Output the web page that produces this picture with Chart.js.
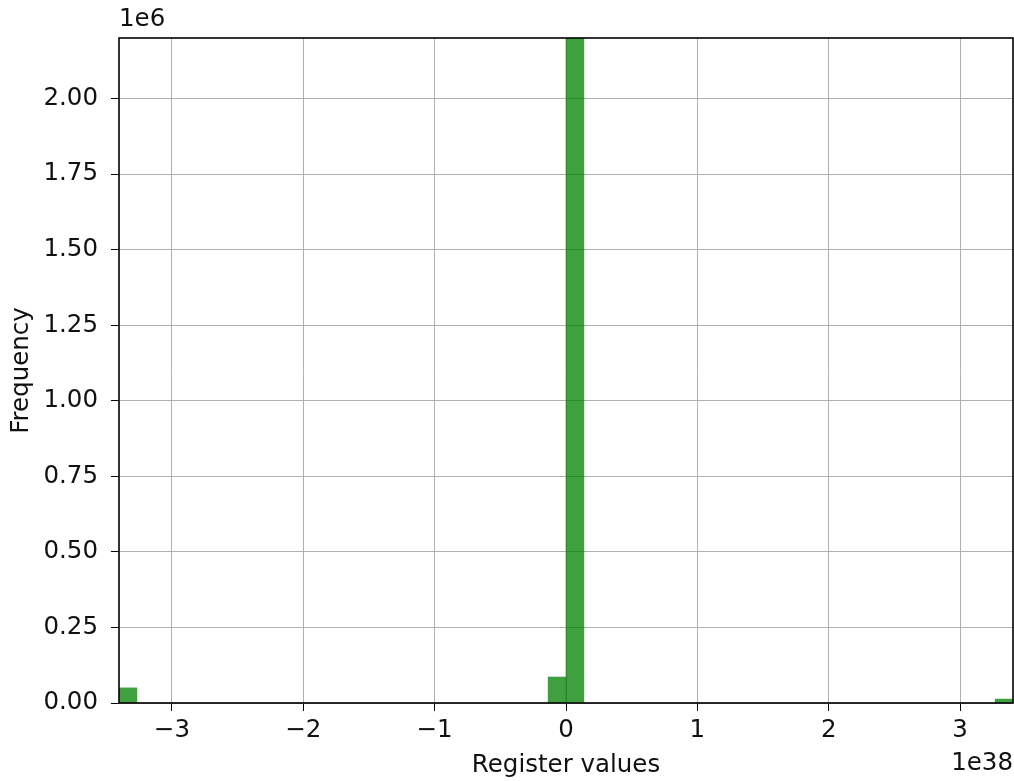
<!DOCTYPE html>
<html>
<head>
<meta charset="utf-8">
<script src="https://cdn.jsdelivr.net/npm/chart.js@4"></script>
<style>
  html, body { margin: 0; padding: 0; background: #fff; }
  #wrap { width: 1014px; height: 781px; }
</style>
</head>
<body>
<div id="wrap"><canvas id="hist"></canvas></div>
<script>
// histogram of register values, 50 bins between -FLT_MAX and +FLT_MAX (x in units of 1e38)
const binLo = -3.4028;
const binHi = 3.4028;
const binCount = 50;
// counts per bin (only four bins are non-empty)
const binCounts = [
  50000, 0, 0, 0, 0, 0, 0, 0, 0, 0,
  0, 0, 0, 0, 0, 0, 0, 0, 0, 0,
  0, 0, 0, 0, 86000, 2600000, 0, 0, 0, 0,
  0, 0, 0, 0, 0, 0, 0, 0, 0, 0,
  0, 0, 0, 0, 0, 0, 0, 0, 0, 13000
];
const xTicks = [-3, -2, -1, 0, 1, 2, 3];
const yTicks = [0, 0.25, 0.5, 0.75, 1.0, 1.25, 1.5, 1.75, 2.0];

const FONT = "'DejaVu Sans', sans-serif";
const FSIZE = 24.5;
const TXT = '#111';
const width = (binHi - binLo) / binCount;
const points = binCounts.map((c, i) => ({ x: binLo + width * (i + 0.5), y: c }));

// black frame around the plot plus the offset labels
const framePlugin = {
  id: 'frame',
  afterDraw(chart) {
    const { ctx, chartArea: a } = chart;
    ctx.save();
    ctx.strokeStyle = '#000';
    ctx.lineWidth = 1.6;
    ctx.strokeRect(a.left, a.top, a.right - a.left, a.bottom - a.top);
    ctx.fillStyle = TXT;
    ctx.font = FSIZE + 'px ' + FONT;
    ctx.textBaseline = 'middle';
    ctx.textAlign = 'left';
    ctx.fillText('1e6', a.left, 20);
    ctx.textAlign = 'right';
    ctx.fillText('1e38', a.right, 764);
    ctx.restore();
  }
};

new Chart(document.getElementById('hist'), {
  type: 'bar',
  data: {
    datasets: [{
      data: points,
      backgroundColor: 'rgba(0,128,0,0.75)',
      borderWidth: 0,
      barPercentage: 1,
      categoryPercentage: 1
    }]
  },
  options: {
    responsive: true,
    maintainAspectRatio: false,
    animation: false,
    layout: { padding: { top: 38, right: 1, left: 0, bottom: 0 } },
    plugins: { legend: { display: false }, tooltip: { enabled: false } },
    scales: {
      x: {
        type: 'linear',
        offset: false,
        min: binLo,
        max: binHi,
        afterBuildTicks: s => { s.ticks = xTicks.map(v => ({ value: v })); },
        afterFit: s => { s.height = 78; },
        grid: { color: '#b0b0b0', lineWidth: 1, tickColor: '#000', tickLength: 8, offset: false },
        border: { display: false },
        ticks: {
          color: TXT,
          font: { family: FONT, size: FSIZE },
          padding: 5,
          maxRotation: 0,
          callback: v => String(v).replace('-', '\u2212')
        },
        title: {
          display: true,
          text: 'Register values',
          color: TXT,
          font: { family: FONT, size: FSIZE },
          padding: { top: 0, bottom: 1 }
        }
      },
      y: {
        min: 0,
        max: 2200000,
        afterBuildTicks: s => { s.ticks = yTicks.map(v => ({ value: v * 1e6 })); },
        afterFit: s => { s.width = 119; },
        grid: { color: '#b0b0b0', lineWidth: 1, tickColor: '#000', tickLength: 8 },
        border: { display: false },
        ticks: {
          color: TXT,
          font: { family: FONT, size: FSIZE },
          padding: 13,
          callback: v => (v / 1e6).toFixed(2)
        },
        title: {
          display: true,
          text: 'Frequency',
          color: TXT,
          font: { family: FONT, size: FSIZE },
          padding: { top: 7, bottom: 0 }
        }
      }
    }
  },
  plugins: [framePlugin]
});
</script>
</body>
</html>
